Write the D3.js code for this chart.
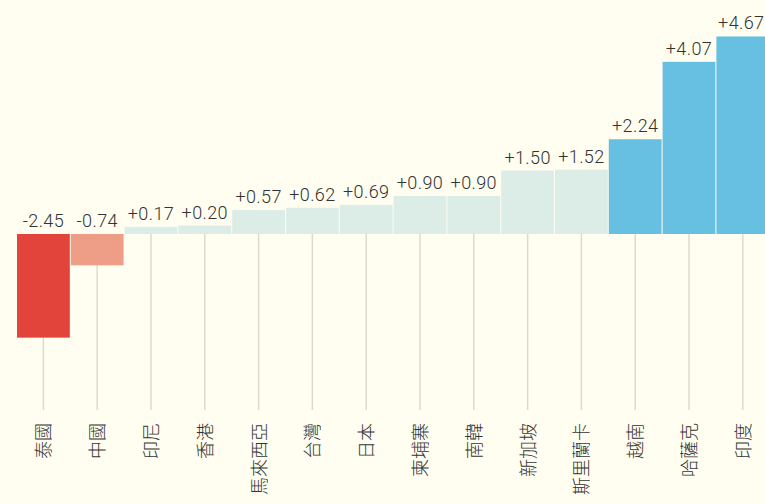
<!DOCTYPE html>
<html><head><meta charset="utf-8">
<script src="https://cdn.jsdelivr.net/npm/d3@7"></script>
<style>
html,body{margin:0;padding:0;background:#fffef0;}
svg{display:block;}
</style></head>
<body>
<script>
const categories = ["泰國","中國","印尼","香港","馬來西亞","台灣","日本","柬埔寨","南韓","新加坡","斯里蘭卡","越南","哈薩克","印度"];
const values = [-2.45,-0.74,0.17,0.20,0.57,0.62,0.69,0.90,0.90,1.50,1.52,2.24,4.07,4.67];
const valueLabels = ["-2.45","-0.74","+0.17","+0.20","+0.57","+0.62","+0.69","+0.90","+0.90","+1.50","+1.52","+2.24","+4.07","+4.67"];

const W = 765, H = 504;
const svg = d3.select("body").append("svg").attr("width", W).attr("height", H);
svg.append("rect").attr("width", W).attr("height", H).attr("fill", "#fffef0");

const data = categories.map((c, i) => ({c, v: values[i], l: valueLabels[i]}));

const x = d3.scaleBand().domain(categories).range([16.5, 16.5 + 14 * 53.8]).padding(0);
const y = d3.scaleLinear().domain([-4, 5]).range([234 + 4 * 42.3, 234 - 5 * 42.3]);
const color = d3.scaleThreshold().domain([-1, 0, 2]).range(["#e2433a", "#ee9e86", "#dcece6", "#67bfe2"]);

// gridlines
svg.append("g").selectAll("line").data(data).join("line")
  .attr("x1", d => x(d.c) + x.bandwidth() / 2)
  .attr("x2", d => x(d.c) + x.bandwidth() / 2)
  .attr("y1", y(0))
  .attr("y2", 410)
  .attr("stroke", "#dedbcb")
  .attr("stroke-width", 1.5);

// bars
svg.append("g").selectAll("rect").data(data).join("rect")
  .attr("x", d => x(d.c) + 0.5)
  .attr("width", x.bandwidth() - 1)
  .attr("y", d => y(Math.max(0, d.v)))
  .attr("height", d => Math.abs(y(d.v) - y(0)))
  .attr("fill", d => color(d.v));

// value labels
svg.append("g").selectAll("text").data(data).join("text")
  .attr("x", (d, i) => x(d.c) + x.bandwidth() / 2 - (i === data.length - 1 ? 1.5 : 0))
  .attr("y", d => y(Math.max(0, d.v)) - 7)
  .attr("text-anchor", "middle")
  .attr("font-family", "Roboto, sans-serif")
  .attr("font-weight", 300)
  .attr("font-size", 18)
  .attr("letter-spacing", "0.4px")
  .attr("fill", "#333")
  .text(d => d.l);

// category labels
svg.append("g").selectAll("text").data(data).join("text")
  .attr("transform", d => `translate(${x(d.c) + x.bandwidth() / 2 - 1},423) rotate(-90)`)
  .attr("text-anchor", "end")
  .attr("dominant-baseline", "central")
  .attr("font-family", "'Noto Sans CJK TC', sans-serif")
  .attr("font-weight", 300)
  .attr("font-size", 18)
  .attr("fill", "#333")
  .text(d => d.c);
</script>
</body></html>
